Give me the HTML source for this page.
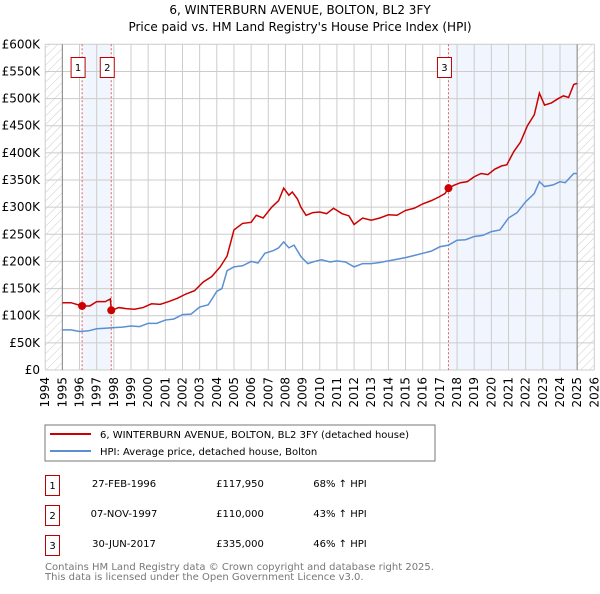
<!DOCTYPE html>
<html><head><meta charset="utf-8"><style>
body{margin:0;background:#fff;font-family:"DejaVu Sans","Liberation Sans",sans-serif;}
svg text{font-family:"DejaVu Sans","Liberation Sans",sans-serif;}
</style></head><body>
<svg id="c" width="600" height="590" xmlns="http://www.w3.org/2000/svg">
<defs><pattern id="hatch" width="6" height="6" patternUnits="userSpaceOnUse" patternTransform="rotate(45)"><line x1="0" y1="0" x2="0" y2="6" stroke="#ccc" stroke-width="1"/></pattern></defs>
<text x="300" y="14" text-anchor="middle" font-size="12">6, WINTERBURN AVENUE, BOLTON, BL2 3FY</text>
<text x="300" y="31" text-anchor="middle" font-size="12">Price paid vs. HM Land Registry's House Price Index (HPI)</text>
<g id="plot"></g>
<rect x="45" y="425" width="390" height="36" fill="#fff" stroke="#777"/>
<line x1="50" y1="434" x2="91" y2="434" stroke="#cc0000" stroke-width="2"/>
<text x="100" y="438" font-size="10">6, WINTERBURN AVENUE, BOLTON, BL2 3FY (detached house)</text>
<line x1="50" y1="451" x2="91" y2="451" stroke="#5b8fd4" stroke-width="2"/>
<text x="100" y="455" font-size="10">HPI: Average price, detached house, Bolton</text>
<g font-size="10">
<rect x="45.5" y="475.5" width="14" height="20" fill="none" stroke="#b00"/><text x="52.5" y="489" text-anchor="middle">1</text>
<text x="124" y="487" text-anchor="middle">27-FEB-1996</text><text x="240" y="487" text-anchor="middle">£117,950</text><text x="340" y="487" text-anchor="middle">68% ↑ HPI</text>
<rect x="45.5" y="505.5" width="14" height="20" fill="none" stroke="#b00"/><text x="52.5" y="519" text-anchor="middle">2</text>
<text x="124" y="517" text-anchor="middle">07-NOV-1997</text><text x="240" y="517" text-anchor="middle">£110,000</text><text x="340" y="517" text-anchor="middle">43% ↑ HPI</text>
<rect x="45.5" y="535.5" width="14" height="20" fill="none" stroke="#b00"/><text x="52.5" y="549" text-anchor="middle">3</text>
<text x="124" y="547" text-anchor="middle">30-JUN-2017</text><text x="240" y="547" text-anchor="middle">£335,000</text><text x="340" y="547" text-anchor="middle">46% ↑ HPI</text>
</g>
<text x="45" y="570" font-size="10" fill="#777">Contains HM Land Registry data © Crown copyright and database right 2025.</text>
<text x="45" y="580" font-size="10" fill="#777">This data is licensed under the Open Government Licence v3.0.</text>
</svg>
<script>
const yTicks=[0,50,100,150,200,250,300,350,400,450,500,550,600];
const yTickLabels=["£0","£50K","£100K","£150K","£200K","£250K","£300K","£350K","£400K","£450K","£500K","£550K","£600K"];
const years=[1994,1995,1996,1997,1998,1999,2000,2001,2002,2003,2004,2005,2006,2007,2008,2009,2010,2011,2012,2013,2014,2015,2016,2017,2018,2019,2020,2021,2022,2023,2024,2025,2026];
const priceT=[1995.0,1995.5,1996.15,1996.6,1997.0,1997.5,1997.8,1997.85,1998.3,1998.7,1999.2,1999.7,2000.2,2000.7,2001.2,2001.7,2002.2,2002.7,2003.2,2003.7,2004.2,2004.6,2005.0,2005.5,2006.0,2006.3,2006.7,2007.2,2007.6,2007.9,2008.2,2008.4,2008.7,2008.9,2009.2,2009.6,2010.0,2010.4,2010.8,2011.3,2011.7,2012.0,2012.5,2013.0,2013.5,2014.0,2014.5,2015.0,2015.5,2016.0,2016.5,2016.9,2017.3,2017.5,2017.8,2018.2,2018.6,2019.0,2019.4,2019.8,2020.2,2020.6,2020.9,2021.3,2021.7,2022.1,2022.5,2022.8,2023.1,2023.5,2023.9,2024.2,2024.5,2024.8,2025.0];
const priceV=[124,124,117.95,118,126,126,131,110,115,113,112,115,122,121,126,132,140,146,162,172,190,210,258,270,272,285,280,300,312,335,322,328,315,300,285,290,291,288,298,288,284,268,280,276,280,286,285,294,298,306,312,318,325,335,340,345,347,356,362,360,370,376,378,402,420,450,470,510,488,492,500,505,502,526,528];
const hpiT=[1995.0,1995.5,1996.0,1996.5,1997.0,1997.5,1998.0,1998.5,1999.0,1999.5,2000.0,2000.5,2001.0,2001.5,2002.0,2002.5,2003.0,2003.5,2004.0,2004.3,2004.6,2005.0,2005.5,2006.0,2006.4,2006.8,2007.3,2007.6,2007.9,2008.2,2008.5,2008.9,2009.3,2009.7,2010.1,2010.6,2011.0,2011.5,2012.0,2012.5,2013.0,2013.5,2014.0,2014.5,2015.0,2015.5,2016.0,2016.5,2017.0,2017.5,2018.0,2018.5,2019.0,2019.5,2020.0,2020.5,2021.0,2021.5,2022.0,2022.5,2022.8,2023.1,2023.6,2024.0,2024.3,2024.8,2025.0];
const hpiV=[74,74,71,72,76,77,78,79,81,80,86,86,92,94,102,103,116,120,145,150,183,190,192,200,197,215,220,225,236,225,230,209,196,200,203,199,201,199,190,196,196,198,201,204,207,211,215,219,227,230,239,240,246,248,255,258,280,290,310,325,347,338,341,347,345,362,362];
const sales=[[1996.15,117.95],[1997.85,110],[2017.5,335]];
const shade=[[1996.15,1997.85],[2017.5,2025]];
const X0=45.2,PX=17.16,Y0=370,PY=325.7/600,TOP=44.3;
const xs=t=>X0+(t-1994)*PX, ys=v=>Y0-v*PY;
const NS='http://www.w3.org/2000/svg';
const g=document.getElementById('plot');
function mk(tag,attrs,name){const e=document.createElementNS(NS,tag);for(const k in attrs)e.setAttribute(k,attrs[k]);


g.appendChild(e);return e;}
mk('rect',{x:xs(1994),y:TOP,width:xs(2026)-xs(1994),height:Y0-TOP,fill:'#fff'},'plot-area');
shade.forEach(s=>mk('rect',{x:xs(s[0]),y:TOP,width:xs(s[1])-xs(s[0]),height:Y0-TOP,fill:'#eef3fc',opacity:0.8},'shaded-period'));
mk('rect',{x:xs(1994),y:TOP,width:xs(1995)-xs(1994),height:Y0-TOP,fill:'url(#hatch)'},'hatch-left');
mk('rect',{x:xs(2025),y:TOP,width:xs(2026)-xs(2025),height:Y0-TOP,fill:'url(#hatch)'},'hatch-right');
years.forEach(y=>mk('line',{x1:xs(y),x2:xs(y),y1:TOP,y2:Y0,stroke:'#ccc','stroke-width':1},'x-gridline'));
yTicks.forEach(v=>mk('line',{x1:xs(1994),x2:xs(2026),y1:ys(v),y2:ys(v),stroke:'#ccc','stroke-width':1},'y-gridline'));
mk('line',{x1:xs(1995),x2:xs(1995),y1:TOP,y2:Y0,stroke:'#888','stroke-width':1},'data-start-line');
mk('line',{x1:xs(2025),x2:xs(2025),y1:TOP,y2:Y0,stroke:'#888','stroke-width':1},'data-end-line');
yTicks.forEach((v,i)=>{const t=mk('text',{x:40,y:ys(v)+4,'text-anchor':'end','font-size':12},'y-tick-label');t.textContent=yTickLabels[i];});
years.forEach(y=>{const t=mk('text',{transform:`translate(${xs(y)+4},${Y0+7}) rotate(-90)`,'text-anchor':'end','font-size':12},'x-tick-label');t.textContent=y;});
sales.forEach((s,i)=>{mk('line',{x1:xs(s[0]),x2:xs(s[0]),y1:TOP,y2:Y0,stroke:'#e06060','stroke-width':1,'stroke-dasharray':'2,2'},'sale-line');});
mk('polyline',{points:hpiT.map((t,i)=>xs(t)+','+ys(hpiV[i])).join(' '),fill:'none',stroke:'#5b8fd4','stroke-width':1.5},'hpi-line');
mk('polyline',{points:priceT.map((t,i)=>xs(t)+','+ys(priceV[i])).join(' '),fill:'none',stroke:'#cc0000','stroke-width':1.5},'price-line');
sales.forEach((s,i)=>{mk('circle',{cx:xs(s[0]),cy:ys(s[1]),r:4,fill:'#cc0000'},'sale-point');
mk('rect',{x:xs(s[0])-4-7,y:57.5,width:14,height:20,fill:'#fff',stroke:'#b00'},'sale-label-box');
const t=mk('text',{x:xs(s[0])-4,y:71,'text-anchor':'middle','font-size':10},'sale-label');t.textContent=i+1;});
</script>
</body></html>
